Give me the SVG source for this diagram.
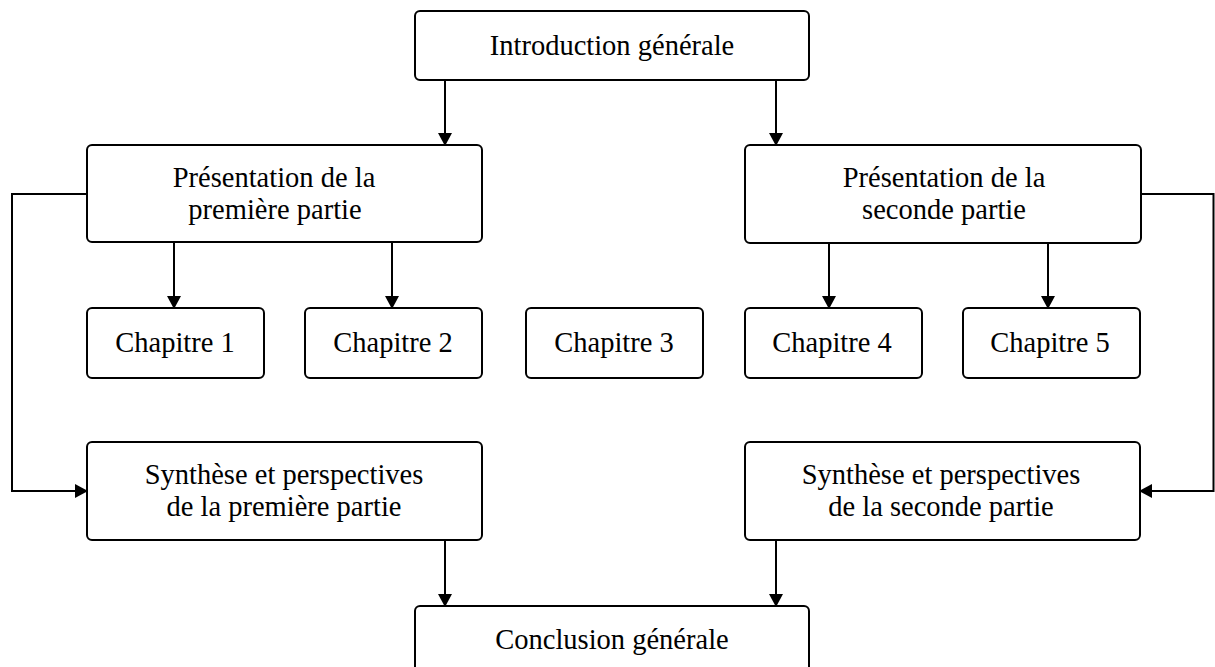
<svg xmlns="http://www.w3.org/2000/svg" width="1215" height="667" viewBox="0 0 1215 667">
<style>
.box{fill:#fff;stroke:#000;stroke-width:2}
.t{font-family:"Liberation Serif","DejaVu Serif",serif;font-size:28.5px;fill:#000;text-anchor:middle}
.c{fill:none;stroke:#000;stroke-width:2}
.a{marker-end:url(#arr)}
</style>
<defs>
<marker id="arr" markerUnits="userSpaceOnUse" markerWidth="13" markerHeight="14" refX="12" refY="7" orient="auto">
<path d="M0,0 L13,7 L0,14 z" fill="#000"/>
</marker>
</defs>
<rect width="1215" height="667" fill="#fff"/>
<g id="connectors">
<path class="c a" d="M445,80 V145"/>
<path class="c a" d="M776,80 V145"/>
<path class="c a" d="M174,242 V308"/>
<path class="c a" d="M392,242 V308"/>
<path class="c a" d="M829,243 V308"/>
<path class="c a" d="M1048,243 V308"/>
<path class="c a" d="M87,194 H12 V491 H87"/>
<path class="c a" d="M1141,194 H1213.5 V491 H1140"/>
<path class="c a" d="M445,540 V606"/>
<path class="c a" d="M776,540 V606"/>
</g>
<g id="intro">
<rect class="box" x="415" y="11" width="394" height="69" rx="5"/>
<text class="t" x="612" y="55">Introduction générale</text>
</g>
<g id="p1">
<rect class="box" x="87" y="145" width="395" height="97" rx="5"/>
<text class="t" x="274" y="187">Présentation de la</text>
<text class="t" x="275" y="219">première partie</text>
</g>
<g id="p2">
<rect class="box" x="745" y="145" width="396" height="98" rx="5"/>
<text class="t" x="944" y="187">Présentation de la</text>
<text class="t" x="944" y="219">seconde partie</text>
</g>
<g id="ch1">
<rect class="box" x="87" y="308" width="177" height="70" rx="5"/>
<text class="t" x="175" y="352">Chapitre 1</text>
</g>
<g id="ch2">
<rect class="box" x="305" y="308" width="177" height="70" rx="5"/>
<text class="t" x="393" y="352">Chapitre 2</text>
</g>
<g id="ch3">
<rect class="box" x="526" y="308" width="177" height="70" rx="5"/>
<text class="t" x="614" y="352">Chapitre 3</text>
</g>
<g id="ch4">
<rect class="box" x="745" y="308" width="177" height="70" rx="5"/>
<text class="t" x="832" y="352">Chapitre 4</text>
</g>
<g id="ch5">
<rect class="box" x="963" y="308" width="177" height="70" rx="5"/>
<text class="t" x="1050" y="352">Chapitre 5</text>
</g>
<g id="s1">
<rect class="box" x="87" y="442" width="395" height="98" rx="5"/>
<text class="t" x="284" y="484">Synthèse et perspectives</text>
<text class="t" x="284" y="516">de la première partie</text>
</g>
<g id="s2">
<rect class="box" x="745" y="442" width="395" height="98" rx="5"/>
<text class="t" x="941" y="484">Synthèse et perspectives</text>
<text class="t" x="941" y="516">de la seconde partie</text>
</g>
<g id="concl">
<rect class="box" x="415" y="606" width="394" height="69" rx="5"/>
<text class="t" x="612" y="649">Conclusion générale</text>
</g>
</svg>
